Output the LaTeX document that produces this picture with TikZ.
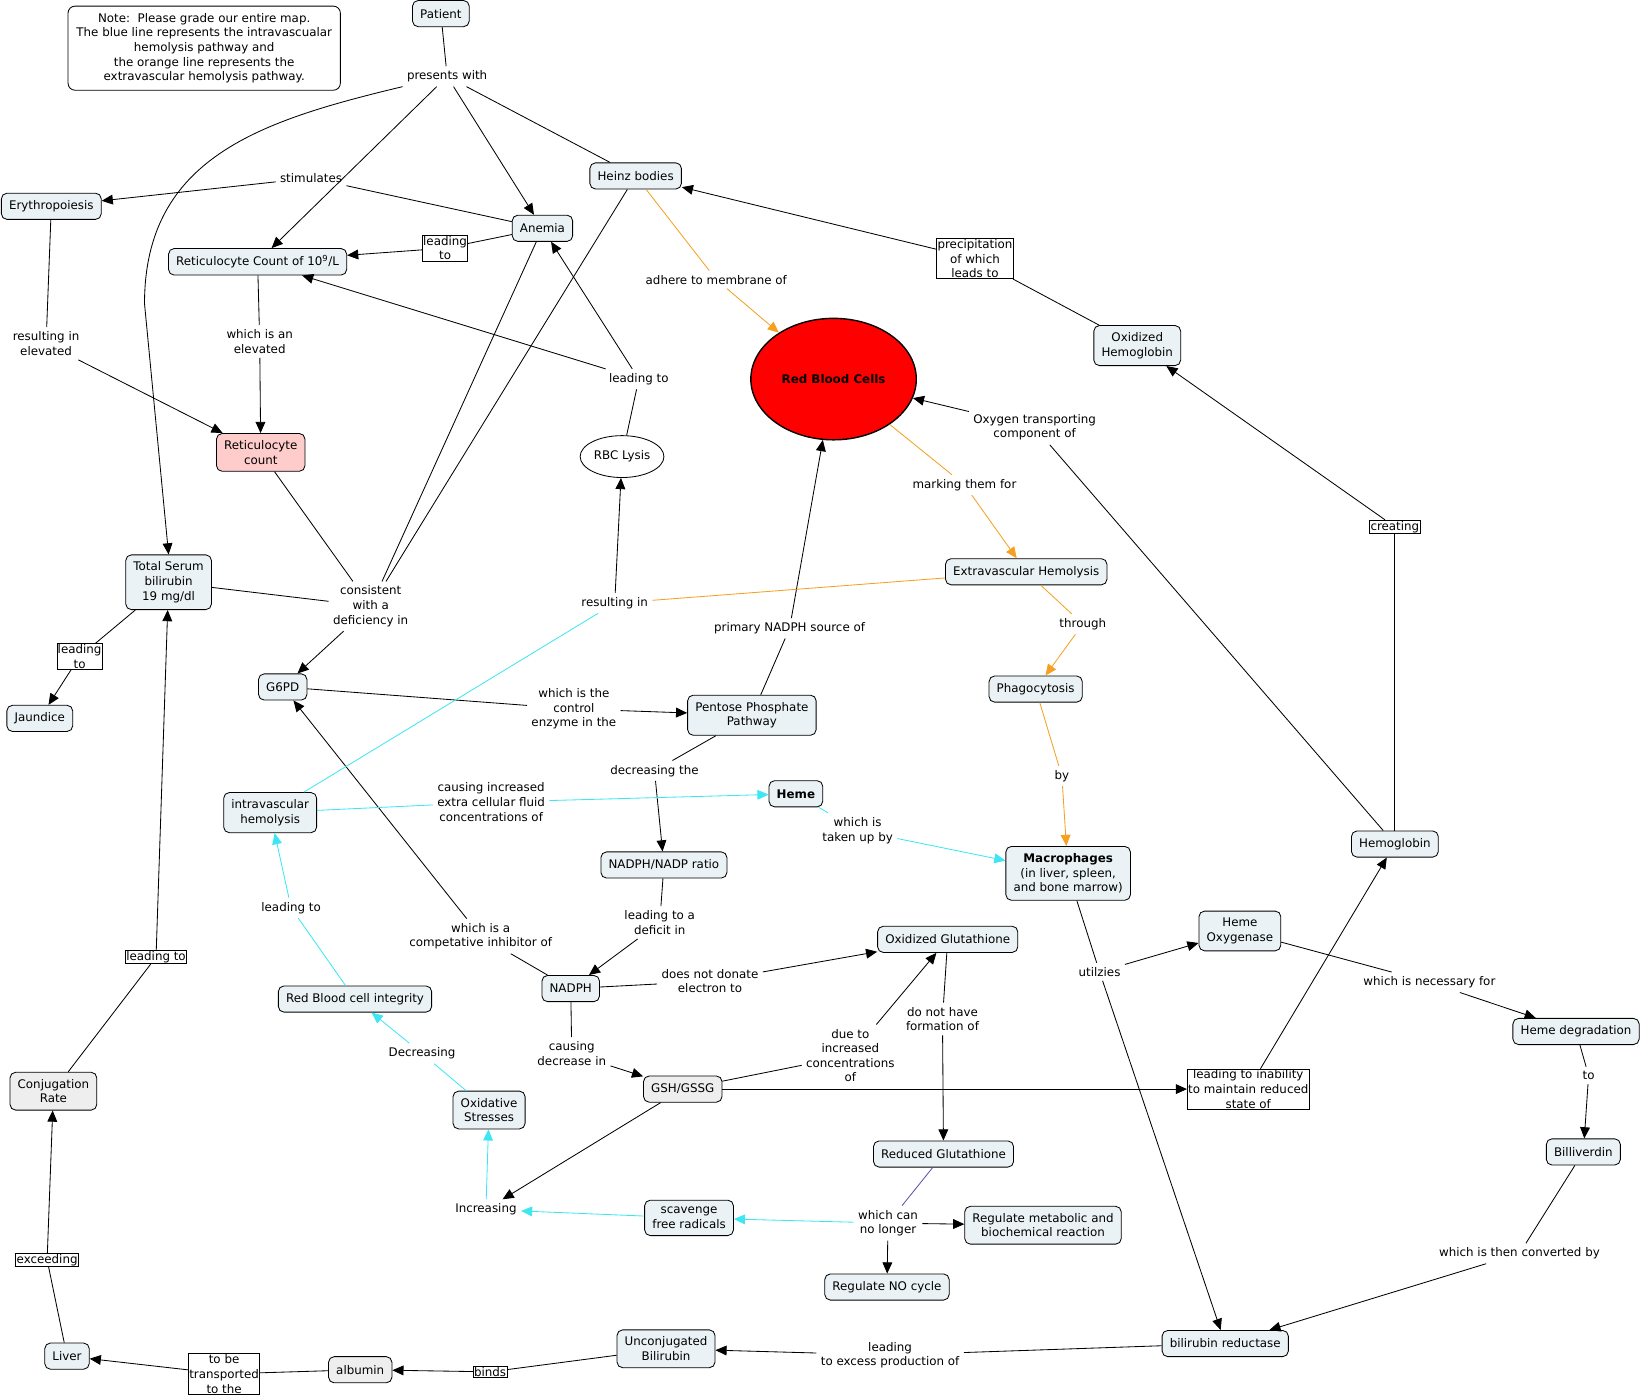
\documentclass[tikz,border=0pt]{standalone}
\usepackage{fontspec}
\setmainfont{DejaVu Sans}
\usetikzlibrary{arrows.meta,shapes.geometric}
\definecolor{nodefill}{HTML}{EBF2F5}
\definecolor{greyfill}{HTML}{EEEEEE}
\definecolor{pinkfill}{HTML}{FFCCCC}
\definecolor{orng}{HTML}{F5A021}
\definecolor{cyn}{HTML}{3DE6F2}
\definecolor{navyline}{HTML}{5555AA}
\begin{document}
\begin{tikzpicture}[x=0.75pt,y=-0.75pt,
  every node/.style={font=\fontsize{8.5}{10.5}\selectfont, align=center, text=black},
  concept/.style={draw, rounded corners=4pt, fill=nodefill, inner xsep=5.5pt, inner ysep=5pt, minimum height=18.75pt, line width=0.6pt},
  lbl/.style={inner sep=3pt},
  blbl/.style={draw, fill=white, inner sep=0.6pt, line width=0.5pt},
  conn/.style={line width=0.6pt},
  arr/.style={conn, -{Triangle[length=8pt,width=7pt]}},
  connc/.style={conn, cyn},
  arrc/.style={arr, cyn},
  conno/.style={conn, orng},
  arro/.style={arr, orng}]
\useasboundingbox (0,0) rectangle (1568,1334);

\node[draw, rounded corners=5pt, fill=white, inner xsep=6pt, inner ysep=5pt, line width=0.6pt] (note) at (195,46)
  {Note:\ \ Please grade our entire map.\\The blue line represents the intravascualar\\hemolysis pathway and\\the orange line represents the\\extravascular hemolysis pathway.};

\node[concept] (pat) at (421,13) {Patient};
\node[lbl] (pw) at (427,73) {presents with};
\node[concept] (ery) at (49,197) {Erythropoiesis};
\node[lbl] (stim) at (297,170) {stimulates};
\node[concept] (ane) at (518,218) {Anemia};
\node[blbl] (lt1) at (425,237) {leading\\to};
\node[concept] (rc10) at (246,250) {Reticulocyte Count of 10\textsuperscript{9}/L};
\node[concept] (hb) at (607,168) {Heinz bodies};
\node[lbl] (adh) at (684,267) {adhere to membrane of};
\node[blbl] (prec) at (931,247) {precipitation\\of which\\leads to};
\node[concept] (oxhb) at (1086,330) {Oxidized\\Hemoglobin};
\node[ellipse, draw, fill=red, line width=1pt, minimum width=118.5pt, minimum height=87pt] (rbc) at (796,362) {\textbf{Red Blood Cells}};
\node[lbl] (lt2) at (610,362) {leading to};
\node[ellipse, draw, fill=white, line width=0.6pt, minimum width=55.5pt, minimum height=30pt, inner sep=1pt] (lys) at (594,436) {RBC Lysis};
\node[lbl] (oxy) at (988,408) {Oxygen transporting\\component of};
\node[lbl] (mark) at (921,463) {marking them for};
\node[blbl] (crt) at (1332,503) {creating};
\node[concept] (ext) at (980,546) {Extravascular Hemolysis};
\node[lbl] (rie) at (44,328) {resulting in\\elevated};
\node[lbl] (whel) at (248,326) {which is an\\elevated};
\node[concept, fill=pinkfill] (rcp) at (249,432) {Reticulocyte\\count};
\node[concept] (tsb) at (161,556) {Total Serum\\bilirubin\\19 mg/dl};
\node[lbl] (cons) at (354,579) {consistent\\with a\\deficiency in};
\node[lbl] (resin) at (587,576) {resulting in};
\node[lbl] (pns) at (754,600) {primary NADPH source of};
\node[lbl] (thr) at (1034,596) {through};
\node[concept] (phag) at (989,658) {Phagocytosis};
\node[blbl] (lt3) at (76,627) {leading\\to};
\node[concept] (jau) at (38,686) {Jaundice};
\node[concept] (g6pd) at (270,656) {G6PD};
\node[lbl] (ctrl) at (548,677) {which is the\\control\\enzyme in the};
\node[concept] (ppp) at (718,683) {Pentose Phosphate\\Pathway};
\node[lbl] (dec) at (625,736) {decreasing the};
\node[lbl] (cic) at (469,766) {causing increased\\extra cellular fluid\\concentrations of};
\node[concept] (ivh) at (258,776) {intravascular\\hemolysis};
\node[concept] (heme) at (760,758) {\textbf{Heme}};
\node[lbl] (tub) at (819,793) {which is\\taken up by};
\node[lbl] (bylbl) at (1014,741) {by};
\node[concept] (mac) at (1020,834) {\textbf{Macrophages}\\(in liver, spleen,\\and bone marrow)};
\node[concept] (hgb) at (1332,806) {Hemoglobin};
\node[concept] (ratio) at (634,826) {NADPH/NADP ratio};
\node[lbl] (lt4) at (278,867) {leading to};
\node[lbl] (ltd) at (630,881) {leading to a\\deficit in};
\node[lbl] (comp) at (459,894) {which is a\\competative inhibitor of};
\node[concept] (oxg) at (905,897) {Oxidized Glutathione};
\node[concept] (ho) at (1184,889) {Heme\\Oxygenase};
\node[lbl] (utl) at (1050,928) {utilzies};
\node[lbl] (nec) at (1365,938) {which is necessary for};
\node[blbl] (lt5) at (149,914) {leading to};
\node[concept] (rbci) at (339,954) {Red Blood cell integrity};
\node[concept] (nadph) at (545,944) {NADPH};
\node[lbl] (dnd) at (678,937) {does not donate\\electron to};
\node[lbl] (dnh) at (900,973) {do not have\\formation of};
\node[concept] (hdeg) at (1505,985) {Heme degradation};
\node[lbl] (decr) at (403,1006) {Decreasing};
\node[lbl] (dti) at (812,1008) {due to\\increased\\concentrations\\of};
\node[concept, fill=greyfill] (conj) at (51,1042) {Conjugation\\Rate};
\node[concept] (oxs) at (467,1060) {Oxidative\\Stresses};
\node[lbl] (cdi) at (546,1006) {causing\\decrease in};
\node[concept, fill=greyfill] (gsh) at (652,1040) {GSH/GSSG};
\node[blbl] (lti) at (1192,1040) {leading to inability\\to maintain reduced\\state of};
\node[lbl] (tolbl) at (1517,1027) {to};
\node[concept] (bili) at (1512,1100) {Billiverdin};
\node[concept] (redg) at (901,1102) {Reduced Glutathione};
\node[lbl] (incr) at (464,1155) {Increasing};
\node[concept] (scav) at (658,1163) {scavenge\\free radicals};
\node[lbl] (wcn) at (848,1168) {which can\\no longer};
\node[concept] (regm) at (996,1170) {Regulate metabolic and\\biochemical reaction};
\node[lbl] (wtc) at (1451,1197) {which is then converted by};
\node[blbl] (exc) at (45,1203) {exceeding};
\node[concept] (regno) at (847,1229) {Regulate NO cycle};
\node[concept] (liver) at (64,1295) {Liver};
\node[blbl] (tbt) at (214,1312) {to be\\transported\\to the};
\node[concept, fill=greyfill] (alb) at (344,1308) {albumin};
\node[blbl] (binds) at (468,1310) {binds};
\node[concept] (unc) at (636,1288) {Unconjugated\\Bilirubin};
\node[lbl] (lep) at (850,1294) {leading\\to excess production of};
\node[concept] (br) at (1170,1283) {bilirubin reductase};

% black connectors
\draw[conn] (pat) -- (pw);
\draw[arr] (pw) -- (ane);
\draw[arr] (pw) -- (rc10);
\draw[conn] (pw) -- (hb);
\coordinate (cv1) at (138,290);
\draw[arr] (pw.south west) .. controls (250,115) and (138,150) .. (cv1) -- (tsb.north);
\draw[conn] (ane) -- (stim); \draw[arr] (stim) -- (ery);
\draw[conn] (ane) -- (lt1); \draw[arr] (lt1) -- (rc10);
\draw[conn] (ery) -- (rie); \draw[arr] (rie) -- (rcp);
\draw[conn] (rc10) -- (whel); \draw[arr] (whel) -- (rcp);
\draw[conn] (rcp) -- (cons);
\draw[conn] (ane) -- (cons);
\draw[conn] (hb) -- (cons);
\draw[conn] (tsb) -- (cons);
\draw[arr] (cons) -- (g6pd);
\draw[conn] (lys) -- (lt2); \draw[arr] (lt2) -- (ane); \draw[arr] (lt2) -- (rc10);
\draw[conn] (oxhb) -- (prec); \draw[arr] (prec) -- (hb);
\draw[conn] (hgb) -- (crt); \draw[arr] (crt) -- (oxhb);
\draw[conn] (hgb) -- (oxy); \draw[arr] (oxy) -- (rbc);
\draw[conn] (ppp) -- (pns); \draw[arr] (pns) -- (rbc);
\draw[conn] (g6pd) -- (ctrl); \draw[arr] (ctrl) -- (ppp);
\draw[conn] (ppp) -- (dec); \draw[arr] (dec) -- (ratio);
\draw[conn] (ratio) -- (ltd); \draw[arr] (ltd) -- (nadph);
\draw[conn] (nadph) -- (comp); \draw[arr] (comp) -- (g6pd);
\draw[conn] (nadph) -- (dnd); \draw[arr] (dnd) -- (oxg);
\draw[conn] (nadph) -- (cdi); \draw[arr] (cdi) -- (gsh);
\draw[conn] (gsh) -- (dti); \draw[arr] (dti) -- (oxg);
\draw[conn] (oxg) -- (dnh); \draw[arr] (dnh) -- (redg);
\draw[arr] (gsh) -- (lti);
\draw[arr] (lti) -- (hgb);
\draw[arr] (gsh) -- (incr);
\draw[conn, navyline] (redg) -- (wcn);
\draw[arr] (wcn) -- (regm);
\draw[arr] (wcn) -- (regno);
\draw[resin-conn-dummy/.style={}, arr] (resin) -- (lys);
\draw[conn] (mac) -- (utl); \draw[arr] (utl) -- (ho); \draw[arr] (utl) -- (br);
\draw[conn] (ho) -- (nec); \draw[arr] (nec) -- (hdeg);
\draw[conn] (hdeg) -- (tolbl); \draw[arr] (tolbl) -- (bili);
\draw[conn] (bili) -- (wtc); \draw[arr] (wtc) -- (br);
\draw[conn] (br) -- (lep); \draw[arr] (lep) -- (unc);
\draw[conn] (unc) -- (binds); \draw[arr] (binds) -- (alb);
\draw[conn] (alb) -- (tbt); \draw[arr] (tbt) -- (liver);
\draw[conn] (liver) -- (exc); \draw[arr] (exc) -- (conj);
\draw[conn] (conj) -- (lt5); \draw[arr] (lt5) -- (tsb);
\draw[conn] (tsb) -- (lt3); \draw[arr] (lt3) -- (jau);

% cyan (intravascular) connectors
\draw[arrc] (wcn) -- (scav);
\draw[arrc] (scav) -- (incr);
\draw[arrc] (incr) -- (oxs);
\draw[connc] (oxs) -- (decr); \draw[arrc] (decr) -- (rbci);
\draw[connc] (rbci) -- (lt4); \draw[arrc] (lt4) -- (ivh);
\draw[connc] (ivh) -- (cic); \draw[arrc] (cic) -- (heme);
\draw[connc] (ivh) -- (resin);
\draw[connc] (heme) -- (tub); \draw[arrc] (tub) -- (mac);

% orange (extravascular) connectors
\draw[conno] (ext) -- (resin);
\draw[conno] (hb) -- (adh); \draw[arro] (adh) -- (rbc);
\draw[conno] (rbc) -- (mark); \draw[arro] (mark) -- (ext);
\draw[conno] (ext) -- (thr); \draw[arro] (thr) -- (phag);
\draw[conno] (phag) -- (bylbl); \draw[arro] (bylbl) -- (mac);
\end{tikzpicture}
\end{document}
